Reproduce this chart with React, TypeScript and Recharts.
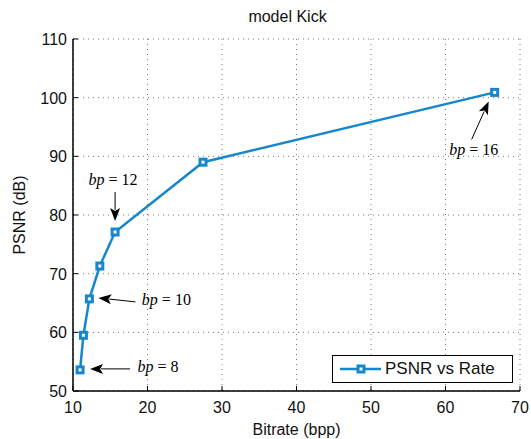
import React from 'react';
import { LineChart, Line, XAxis, YAxis, CartesianGrid, ReferenceDot, Legend, Label } from 'recharts';

const bitrate = [10.95, 11.4, 12.2, 13.6, 15.65, 27.45, 66.6];
const psnr = [53.6, 59.5, 65.7, 71.3, 77.1, 89.0, 100.9];
const xTicks = [10, 20, 30, 40, 50, 60, 70];
const yTicks = [50, 60, 70, 80, 90, 100, 110];
const annotations = [
  { idx: 0, bp: '8' },
  { idx: 2, bp: '10' },
  { idx: 4, bp: '12' },
  { idx: 6, bp: '16' },
];

const data = bitrate.map((b, i) => ({ bitrate: b, psnr: psnr[i] }));

const BLUE = '#1787cc';
const FONT = '"Liberation Sans", Arial, Helvetica, sans-serif';
const SERIF = '"Liberation Serif", "DejaVu Serif", serif';

const Arrow = ({ x1, y1, x2, y2 }: any) => {
  const dx = x2 - x1, dy = y2 - y1;
  const len = Math.sqrt(dx * dx + dy * dy);
  const ux = dx / len, uy = dy / len;
  const hl = 13, hw = 5;
  const bx = x2 - ux * hl, by = y2 - uy * hl;
  const px = -uy * hw, py = ux * hw;
  return (
    <g>
      <line x1={x1} y1={y1} x2={bx + ux * 2} y2={by + uy * 2} stroke="#000" strokeWidth={1} />
      <path d={`M${x2},${y2} L${bx + px},${by + py} L${bx + ux * 3},${by + uy * 3} L${bx - px},${by - py} Z`} fill="#000" />
    </g>
  );
};

const BpText = ({ x, y, bp }: any) => (
  <text x={x} y={y} fontFamily={SERIF} fontSize={16} fill="#000" textAnchor="middle">
    <tspan fontStyle="italic">bp</tspan>
    <tspan dx={4}>=</tspan>
    <tspan dx={4}>{bp}</tspan>
  </text>
);

const makeAnno = (bp: string) => (props: any) => {
  const { cx, cy } = props;
  if (bp === '8') {
    return (
      <g>
        <Arrow x1={cx + 50} y1={cy - 1} x2={cx + 10} y2={cy - 1} />
        <BpText x={cx + 78} y={cy + 2} bp={bp} />
      </g>
    );
  }
  if (bp === '10') {
    return (
      <g>
        <Arrow x1={cx + 46} y1={cy + 3} x2={cx + 9} y2={cy - 1} />
        <BpText x={cx + 77} y={cy + 6} bp={bp} />
      </g>
    );
  }
  if (bp === '12') {
    return (
      <g>
        <Arrow x1={cx} y1={cy - 40} x2={cx} y2={cy - 11} />
        <BpText x={cx - 2} y={cy - 47} bp={bp} />
      </g>
    );
  }
  return (
    <g>
      <Arrow x1={cx - 23} y1={cy + 47} x2={cx - 6} y2={cy + 9} />
      <BpText x={cx - 21} y={cy + 63} bp={bp} />
    </g>
  );
};

const Marker = (props: any) => {
  const { cx, cy, index } = props;
  if (cx == null || cy == null) return null;
  return <rect key={index} x={cx - 3} y={cy - 3} width={6} height={6} fill="#fff" stroke={BLUE} strokeWidth={3} />;
};

const BottomTick = ({ x, y, payload }: any) => (
  <g>
    <line x1={x} x2={x} y1={y} y2={y - 5} stroke="#000" />
    <text x={x} y={y + 22} textAnchor="middle" fontFamily={FONT} fontSize={16} fill="#111">{payload.value}</text>
  </g>
);
const TopTick = ({ x, y }: any) => <line x1={x} x2={x} y1={y} y2={y + 5} stroke="#000" />;
const LeftTick = ({ x, y, payload }: any) => (
  <g>
    <line x1={x} x2={x + 5} y1={y} y2={y} stroke="#000" />
    <text x={x - 6} y={y + 6} textAnchor="end" fontFamily={FONT} fontSize={16} fill="#111">{payload.value}</text>
  </g>
);
const RightTick = ({ x, y }: any) => <line x1={x} x2={x - 5} y1={y} y2={y} stroke="#000" />;

const LegendBox = () => (
  <div style={{ width: 179, height: 26, border: '1px solid #000', background: '#fff', display: 'flex', alignItems: 'center', fontFamily: FONT, fontSize: 17, color: '#111' }}>
    <svg width={50} height={26} style={{ display: 'block' }}>
      <line x1={7} x2={48} y1={13} y2={13} stroke={BLUE} strokeWidth={2.5} />
      <rect x={25} y={10} width={6} height={6} fill="#fff" stroke={BLUE} strokeWidth={3} />
    </svg>
    <span style={{ marginLeft: 2 }}>PSNR vs Rate</span>
  </div>
);

export default function App() {
  return (
    <div style={{ position: 'absolute', left: 0, top: 0, width: 531, height: 439, background: '#fff' }}>
      <div style={{ position: 'absolute', left: 0, width: 575, top: 7, textAlign: 'center', fontFamily: FONT, fontSize: 16, color: '#111', lineHeight: '20px', zIndex: 2 }}>
        model Kick
      </div>
      <LineChart width={531} height={439} data={data} margin={{ top: 39, right: 11, bottom: 0, left: 0 }}>
        <CartesianGrid stroke="#777" strokeDasharray="1 4" horizontalValues={yTicks} verticalValues={xTicks} />
        <XAxis dataKey="bitrate" type="number" domain={[10, 70]} ticks={xTicks} height={48} tickSize={0} tickMargin={0}
          tick={<BottomTick />} axisLine={{ stroke: '#000', strokeWidth: 1.5 }} tickLine={false} interval={0}>
          <Label value="Bitrate (bpp)" position="insideBottom" offset={4} style={{ fontFamily: FONT, fontSize: 16, fill: '#111' }} />
        </XAxis>
        <XAxis xAxisId="top" orientation="top" dataKey="bitrate" type="number" domain={[10, 70]} ticks={xTicks} height={0}
          tickSize={0} tickMargin={0} tick={<TopTick />} axisLine={{ stroke: '#000', strokeWidth: 1.5 }} tickLine={false} interval={0} />
        <YAxis type="number" domain={[50, 110]} ticks={yTicks} width={73} tickSize={0} tickMargin={0}
          tick={<LeftTick />} axisLine={{ stroke: '#000', strokeWidth: 1.5 }} tickLine={false} interval={0}>
          <Label value="PSNR (dB)" angle={-90} position="insideLeft" offset={19} style={{ fontFamily: FONT, fontSize: 16, fill: '#111', textAnchor: 'middle' }} />
        </YAxis>
        <YAxis yAxisId="right" orientation="right" type="number" domain={[50, 110]} ticks={yTicks} width={0} tickSize={0} tickMargin={0}
          tick={<RightTick />} axisLine={{ stroke: '#000', strokeWidth: 1.5 }} tickLine={false} interval={0} />
        <Line dataKey="psnr" stroke={BLUE} strokeWidth={2.5} dot={<Marker />} activeDot={false} isAnimationActive={false} name="PSNR vs Rate" />
        {annotations.map((a) => (
          <ReferenceDot key={a.bp} x={bitrate[a.idx]} y={psnr[a.idx]} ifOverflow="visible" shape={makeAnno(a.bp)} />
        ))}
        <Legend layout="horizontal" verticalAlign="middle" align="center" content={<LegendBox />}
          wrapperStyle={{ position: 'absolute', left: 332, top: 355, width: 181, height: 28 }} />
      </LineChart>
    </div>
  );
}
